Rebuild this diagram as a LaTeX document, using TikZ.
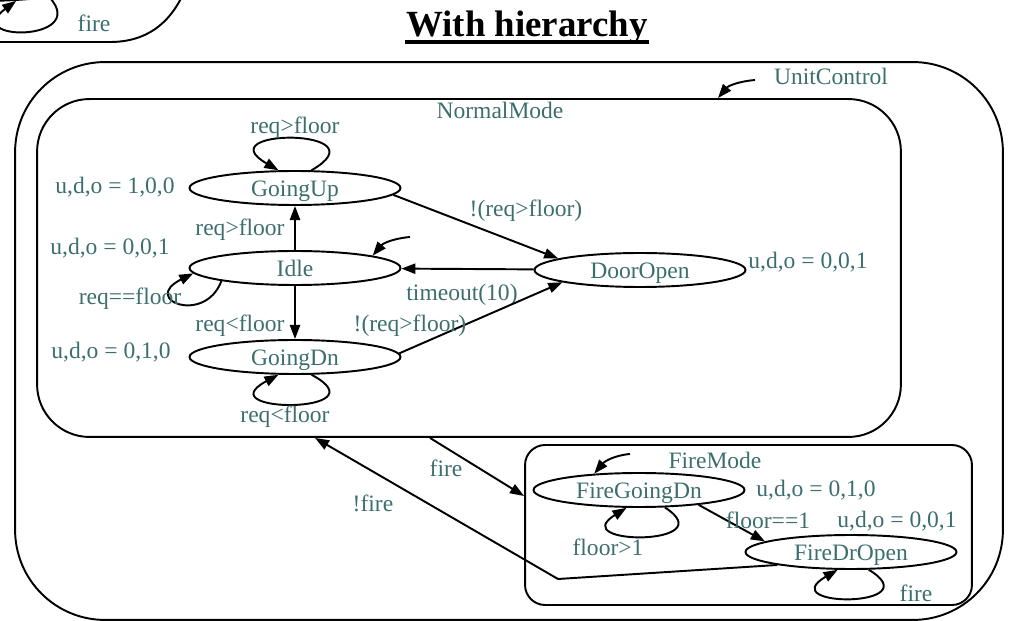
\documentclass[tikz,border=0pt]{standalone}
\usepackage{fontspec}
\setmainfont{Liberation Serif}
\usetikzlibrary{arrows.meta}
\usetikzlibrary{shapes.geometric}
\definecolor{lbl}{RGB}{61,110,110}

\begin{document}
\begin{tikzpicture}[x=0.02cm, y=-0.02cm, line width=1.1pt,
    state/.style={draw, ellipse, minimum width=4.22cm, minimum height=0.68cm, inner sep=0pt,
      text=lbl, text height=9.5pt, text depth=0pt, font=\fontsize{13.4}{16}\selectfont},
    txt/.style={text=lbl, inner sep=0pt, text height=9.5pt, text depth=3pt,
      font=\fontsize{13.4}{16}\selectfont},
    box/.style={draw, rectangle, inner sep=0pt},
    arr/.style={-{Triangle[length=8pt,width=5.8pt]}}]
      \useasboundingbox (0,0) rectangle (1012,621);
      \clip (0,0) rectangle (1012,621);

      % piece of the previous chart
      \node[draw, ellipse, minimum width=4.2cm, minimum height=0.68cm] (prev) at (-20,-16) {};
      \draw (-10,42) -- (110,42) .. controls (145,42) and (170,25) .. (185,-10);
      \draw[arr] (prev.-11) .. controls (90,42) and (-40,42) .. (prev.-25);
      \node[txt] (prevfire) at (94,26) {fire};

      \node[inner sep=0pt, font=\fontsize{21}{25}\selectfont\bfseries, anchor=base] (title) at (527,37) {With hierarchy};
      \draw[line width=2.5pt] ([yshift=-0.1cm]title.base west) -- ([yshift=-0.1cm]title.base east);

      \node[box, rounded corners=1.8cm, minimum width=19.76cm, minimum height=11.16cm] (unitctl) at (509,341) {};
      \node[box, rounded corners=1.05cm, minimum width=17.28cm, minimum height=6.76cm] (normal) at (469,268) {};
      \node[box, rounded corners=0.4cm, minimum width=8.94cm, minimum height=3.2cm] (firemode) at (748.5,525) {};

      \node[txt] (unitlbl) at (831,79) {UnitControl};
      \node[txt] (normlbl) at (500,113) {NormalMode};
      \node[txt] (firelbl) at (715,463) {FireMode};

      \node[state] (up) at (295,188) {GoingUp};
      \node[state] (idle) at (295,268) {Idle};
      \node[state] (dn) at (295,357) {GoingDn};
      \node[state] (door) at (640,270) {DoorOpen};
      \node[state] (fgd) at (639,490) {FireGoingDn};
      \node[state] (fdo) at (851,552) {FireDrOpen};

      \node[txt] (outup) at (115,188) {u,d,o = 1,0,0};
      \node[txt] (outidle) at (110,249) {u,d,o = 0,0,1};
      \node[txt] (outdn) at (111,353) {u,d,o = 0,1,0};
      \node[txt] (outdoor) at (808,263) {u,d,o = 0,0,1};
      \node[txt] (outfgd) at (816,491) {u,d,o = 0,1,0};
      \node[txt] (outfdo) at (897,522) {u,d,o = 0,0,1};

      % initial arrows
      \coordinate (unitin) at (755,80);
      \draw[arr] (unitin) to[out=185,in=50] (normal.north -| 718,0);
      \coordinate (idlein) at (410,237);
      \draw[arr] (idlein) to[out=185,in=50] (idle.9);
      \coordinate (firein) at (630,454);
      \draw[arr] (firein) to[out=185,in=50] (fgd.160);

      % NormalMode
      \draw[arr] (up.47) .. controls (385,128) and (205,128) .. (up.133);
      \node[txt] (lupself) at (295,128) {req>floor};
      \draw[arr] (idle) -- (up);
      \node[txt] (lidleup) at (240,230) {req>floor};
      \draw[arr] (idle) -- (dn);
      \node[txt] (lidledn) at (240,326) {req<floor};
      \draw[arr] (idle.190) .. controls (205,325) and (140,300) .. (idle.183);
      \node[txt] (lidleself) at (130,299) {req==floor};
      \draw[arr] (dn.-47) .. controls (385,414) and (205,414) .. (dn.-133);
      \node[txt] (ldnself) at (285,417) {req<floor};
      \draw[arr] (up.-4) -- (door.172);
      \node[txt] (lupdoor) at (526,211) {!(req>floor)};
      \draw[arr] (door) -- (idle);
      \node[txt] (ldoor) at (462,295) {timeout(10)};
      \draw[arr] (dn.2) -- (door.189);
      \node[txt] (ldndoor) at (410,326) {!(req>floor)};

      % between modes
      \draw[arr] (normal.south -| 430,0) -- (firemode.west |- 0,496);
      \node[txt] (lfire) at (446,471) {fire};
      \coordinate (bend) at (558,579);
      \draw[arr] (fdo.190) -- (bend) -- (normal.south -| 315,0);
      \node[txt] (lnotfire) at (373,506) {!fire};

      % FireMode
      \draw[arr] (fgd.-34) .. controls (725,546) and (565,546) .. (fgd.-125);
      \node[txt] (lfgdself) at (608,550) {floor>1};
      \draw[arr] (fgd.-14) -- (fdo.173);
      \node[txt] (lfgdfdo) at (768,523) {floor==1};
      \draw[arr] (fdo.-45) .. controls (932,608) and (772,608) .. (fdo.-127);
      \node[txt] (lfdoself) at (916,596) {fire};
    \end{tikzpicture}
\end{document}
